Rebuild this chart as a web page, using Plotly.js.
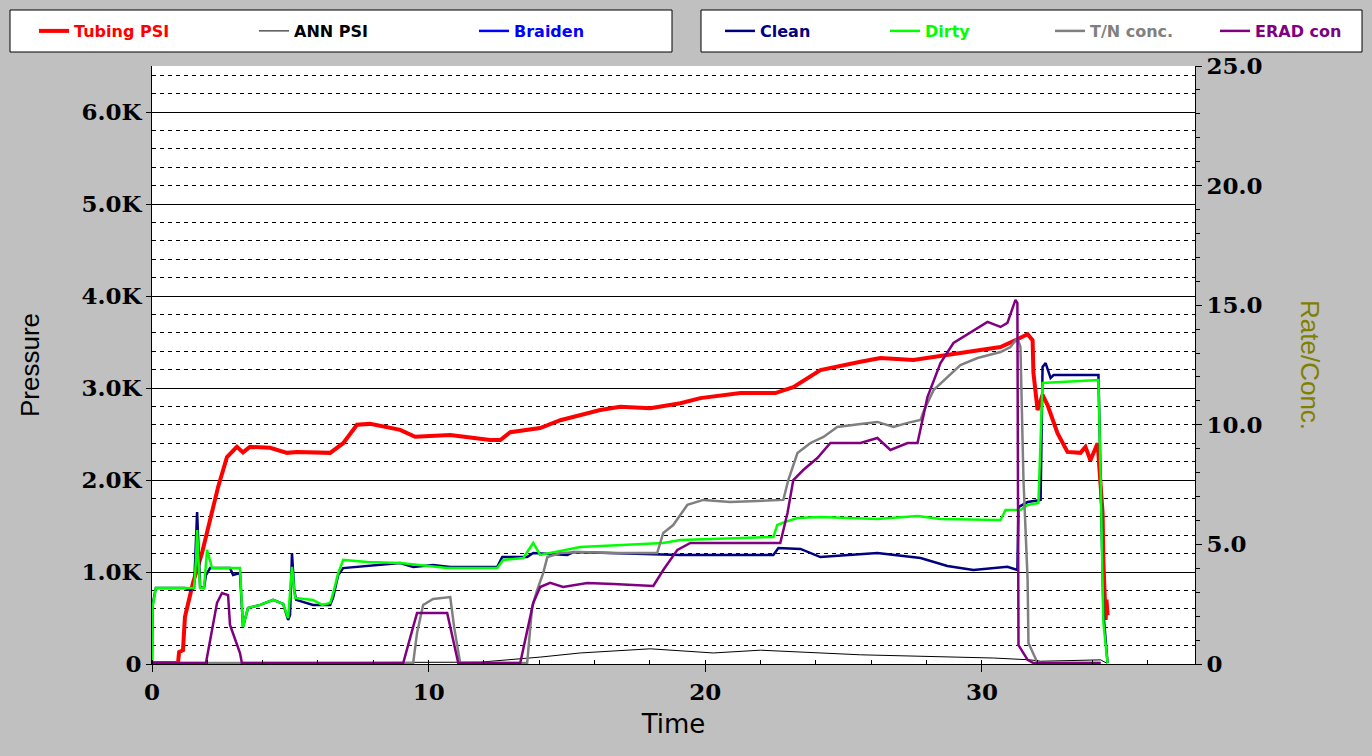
<!DOCTYPE html>
<html>
<head>
<meta charset="utf-8">
<script src="https://cdn.plot.ly/plotly-3.0.1.min.js"></script>
<style>
  html, body { margin: 0; padding: 0; background: #c0c0c0; }
  #chart { width: 1372px; height: 756px; }
</style>
</head>
<body>
<div id="chart"></div>
<script>
// ---- Data (time in minutes, pressure in psi, rate/conc in chart units) ----
const tubingT = [0,0.65,0.94,0.98,1.12,1.19,1.48,1.81,2.10,2.39,2.71,3.07,3.29,3.54,4.27,4.88,5.24,5.97,6.44,6.91,7.41,7.88,8.97,9.51,10.78,12.22,12.59,12.95,14.03,14.76,15.48,16.20,16.93,18.01,19.10,19.82,21.27,22.53,23.18,24.16,25.61,26.33,27.52,28.75,30.67,31.28,31.65,31.83,31.86,32.01,32.19,32.37,32.73,33.09,33.56,33.74,33.92,34.18,34.29,34.36,34.39,34.47,34.50,34.54];
const tubingP = [10,10,10,130,150,510,880,1210,1565,1925,2250,2360,2300,2360,2350,2295,2305,2305,2295,2400,2600,2610,2545,2470,2490,2435,2435,2520,2565,2650,2705,2760,2795,2780,2835,2890,2945,2945,3010,3195,3285,3325,3305,3360,3445,3530,3585,3520,3165,2760,2925,2815,2510,2305,2295,2360,2215,2400,2000,1640,1100,480,700,530];

const annT = [0,11.86,12.84,14.03,15.48,18.01,20.29,21.99,25.61,30.42,31.75,32.12,34.29,34.5];
const annP = [10,20,45,75,120,165,120,150,100,65,45,30,45,10];

const braidenT = [0];
const braidenV = [null];

const cleanT = [0,0.02,0.14,1.19,1.37,1.52,1.59,1.63,1.70,1.74,1.88,1.95,2.10,2.82,2.93,3.18,3.29,3.47,3.91,4.38,4.74,4.92,4.99,5.06,5.14,5.21,5.82,6.15,6.44,6.55,6.73,6.91,7.78,8.97,9.44,10.16,10.78,12.48,12.66,13.56,13.78,15.01,15.23,19.10,22.46,22.64,23.44,24.16,26.22,27.78,28.75,29.69,30.92,31.28,31.32,31.65,32.12,32.19,32.30,32.48,32.59,34.21,34.29,34.39,34.54];
const cleanV = [0.04,2.47,3.18,3.18,3.09,3.18,5.18,6.35,4.35,3.22,3.18,3.72,4.01,4.01,3.72,3.80,1.55,2.34,2.47,2.68,2.51,1.84,2.05,4.64,3.09,2.68,2.47,2.47,2.47,2.80,3.72,4.01,4.10,4.22,4.06,4.14,4.06,4.06,4.47,4.47,4.64,4.56,4.68,4.56,4.56,4.85,4.81,4.47,4.64,4.43,4.10,3.93,4.06,3.93,6.56,6.77,6.86,12.42,12.58,11.96,12.08,12.08,7.69,2.13,0.04];

const dirtyT = [0,0.02,0.14,1.37,1.52,1.59,1.63,1.70,1.74,1.88,1.99,2.17,3.18,3.29,3.47,3.91,4.38,4.74,4.92,5.06,5.17,5.82,6.15,6.44,6.55,6.73,6.91,7.78,8.97,10.67,12.48,12.69,13.42,13.78,14.03,15.48,17.90,18.48,19.10,22.46,22.60,22.89,23.33,24.16,26.22,27.67,28.50,30.67,30.85,31.39,31.65,32.04,32.19,34.21,34.29,34.39,34.54];
const dirtyV = [0.04,2.38,3.18,3.18,3.18,4.35,5.60,3.93,3.18,3.18,4.77,4.01,4.01,1.55,2.34,2.47,2.68,2.51,1.92,4.06,2.76,2.68,2.47,2.55,2.97,3.80,4.35,4.26,4.22,4.01,4.01,4.35,4.43,5.06,4.56,4.89,5.02,5.06,5.18,5.31,5.81,5.94,6.10,6.15,6.06,6.19,6.06,6.02,6.44,6.44,6.65,6.73,11.75,11.87,7.69,1.71,0.04];

const tnT = [0,9.44,9.58,9.80,10.16,10.78,10.92,11.14,13.56,13.74,13.92,14.14,14.29,14.76,15.48,16.67,18.26,18.48,18.84,19.35,19.93,20.90,22.82,23.00,23.33,23.80,24.27,24.77,25.61,26.22,26.80,27.31,27.78,27.88,28.25,28.75,29.22,29.84,30.67,31.03,31.28,31.39,31.50,31.65,31.68,32.01,34.29];
const tnV = [0.04,0.04,1.30,2.47,2.72,2.80,1.55,0.04,0.04,2.38,3.09,3.80,4.47,4.64,4.68,4.64,4.64,5.48,5.81,6.65,6.86,6.77,6.86,7.69,8.82,9.24,9.49,9.91,10.03,10.12,9.91,10.08,10.20,10.54,11.45,12.00,12.50,12.79,13.04,13.25,13.63,13.25,7.69,3.51,0.88,0.04,0.04];

const eradT = [0,1.95,2.17,2.35,2.53,2.75,2.82,3.18,3.25,9.08,9.44,9.58,10.67,10.89,11.07,13.31,13.56,13.78,14.03,14.39,14.86,15.73,16.67,18.12,18.48,18.99,19.46,21.52,22.71,22.97,23.18,23.54,24.05,24.52,25.61,26.22,26.69,27.31,27.67,28.03,28.50,28.97,29.58,30.20,30.67,30.92,31.21,31.28,31.32,31.65,31.86,34.29];
const eradV = [0.04,0.04,1.42,2.55,2.97,2.88,1.63,0.46,0.04,0.04,1.55,2.13,2.13,1.00,0.04,0.04,1.42,2.55,3.22,3.39,3.22,3.39,3.34,3.26,3.93,4.77,5.06,5.06,5.06,6.31,7.69,8.11,8.61,9.24,9.24,9.45,8.95,9.24,9.24,11.16,12.58,13.42,13.84,14.30,14.09,14.26,15.22,15.09,0.79,0.17,0.04,0.04];

const pressTicks = [0,1000,2000,3000,4000,5000,6000];
const pressLabels = ['0','1.0K','2.0K','3.0K','4.0K','5.0K','6.0K'];
const rateTicks = [0,5,10,15,20,25];
const rateLabels = ['0','5.0','10.0','15.0','20.0','25.0'];
const timeTicks = [0,10,20,30];

// ---- Traces ----
function lbl(txt, col) { return '<span style="color:' + col + '">' + txt + '</span>'; }

const traces = [
  {x: annT, y: annP, name: lbl('ANN PSI', '#000000'), mode: 'lines', line: {color: '#000000', width: 1}, yaxis: 'y', legend: 'legend', legendrank: 2},
  {x: braidenT, y: braidenV, name: lbl('Braiden', '#0000ff'), mode: 'lines', line: {color: '#0000ff', width: 2.5}, yaxis: 'y', legend: 'legend', legendrank: 3, showlegend: true},
  {x: cleanT, y: cleanV, name: lbl('Clean', '#000080'), mode: 'lines', line: {color: '#000080', width: 2.5}, yaxis: 'y2', legend: 'legend2', legendrank: 1},
  {x: dirtyT, y: dirtyV, name: lbl('Dirty', '#00ff00'), mode: 'lines', line: {color: '#00ff00', width: 2.5}, yaxis: 'y2', legend: 'legend2', legendrank: 2},
  {x: tnT, y: tnV, name: lbl('T/N conc.', '#808080'), mode: 'lines', line: {color: '#808080', width: 2.5}, yaxis: 'y2', legend: 'legend2', legendrank: 3},
  {x: eradT, y: eradV, name: lbl('ERAD con', '#800080'), mode: 'lines', line: {color: '#800080', width: 2.5}, yaxis: 'y2', legend: 'legend2', legendrank: 4},
  {x: tubingT, y: tubingP, name: lbl('Tubing PSI', '#ff0000'), mode: 'lines', line: {color: '#ff0000', width: 4}, yaxis: 'y', legend: 'legend', legendrank: 1}
];

const tickFont = {family: 'DejaVu Serif', size: 23, color: '#000000', weight: 'bold'};
const legFont = {family: 'DejaVu Sans', size: 16, color: '#000000', weight: 'bold'};

// plot area in page pixels: x 152..1195, y 66..664
const PL = 152, PW = 1043, PB = 664, PH = 598;
function px(x) { return (x - PL) / PW; }
function py(y) { return (PB - y) / PH; }

const layout = {
  width: 1372, height: 756,
  paper_bgcolor: '#c0c0c0',
  plot_bgcolor: '#ffffff',
  margin: {l: 152, r: 177, t: 66, b: 92, pad: 0},
  showlegend: true,
  legend: {
    xref: 'container', yref: 'container', x: 34/1372, y: 1 - 14/756,
    xanchor: 'left', yanchor: 'top', orientation: 'h',
    bgcolor: 'rgba(0,0,0,0)', borderwidth: 0,
    entrywidth: 175, entrywidthmode: 'pixels', itemwidth: 30,
    font: legFont, traceorder: 'normal'
  },
  legend2: {
    xref: 'container', yref: 'container', x: 720/1372, y: 1 - 14/756,
    xanchor: 'left', yanchor: 'top', orientation: 'h',
    bgcolor: 'rgba(0,0,0,0)', borderwidth: 0,
    entrywidth: 120, entrywidthmode: 'pixels', itemwidth: 30,
    font: legFont, traceorder: 'normal'
  },
  shapes: [
    {type: 'rect', xref: 'paper', yref: 'paper', x0: px(10), x1: px(672), y0: py(52), y1: py(10),
     fillcolor: '#ffffff', line: {color: '#000000', width: 1}, layer: 'above'},
    {type: 'rect', xref: 'paper', yref: 'paper', x0: px(701), x1: px(1362), y0: py(52), y1: py(10),
     fillcolor: '#ffffff', line: {color: '#000000', width: 1}, layer: 'above'}
  ],
  xaxis: {
    range: [0, 37.7], tickmode: 'array', tickvals: timeTicks, ticktext: timeTicks.map(String),
    ticks: 'outside', ticklen: 7, tickcolor: '#000000', tickwidth: 1,
    minor: {tick0: 0, dtick: 2, ticks: 'inside', ticklen: 4, tickcolor: '#000000', showgrid: false},
    showline: true, linecolor: '#000000', linewidth: 1, mirror: false,
    showgrid: false, zeroline: false, tickfont: tickFont,
    title: {text: 'Time', font: {family: 'DejaVu Sans', size: 26, color: '#000000'}, standoff: 11}
  },
  yaxis: {
    range: [0, 6500], tickmode: 'array', tickvals: pressTicks, ticktext: pressLabels,
    ticks: 'outside', ticklen: 5, tickcolor: '#000000',
    showline: true, linecolor: '#000000', linewidth: 1,
    showgrid: true, gridcolor: '#000000', gridwidth: 1, zeroline: false,
    minor: {tick0: 0, dtick: 200, showgrid: true, gridcolor: '#000000', gridwidth: 1, griddash: '4px,4px', ticks: ''},
    tickfont: tickFont,
    title: {text: 'Pressure', font: {family: 'Liberation Sans', size: 26, color: '#000000'}, standoff: 34}
  },
  yaxis2: {
    overlaying: 'y', side: 'right', range: [0, 25],
    tickmode: 'array', tickvals: rateTicks, ticktext: rateLabels,
    ticks: 'outside', ticklen: 6, tickcolor: '#000000',
    minor: {tick0: 0, dtick: 1, ticks: 'outside', ticklen: 4, tickcolor: '#000000', showgrid: false},
    showline: true, linecolor: '#000000', linewidth: 1,
    showgrid: false, zeroline: false, tickfont: tickFont
  },
  annotations: [
    {text: 'Rate/Conc.', xref: 'paper', yref: 'paper', x: px(1310), y: py(365), textangle: 90,
     showarrow: false, xanchor: 'center', yanchor: 'middle',
     font: {family: 'Liberation Sans', size: 26, color: '#808000'}}
  ]
};

Plotly.newPlot('chart', traces, layout, {displayModeBar: false, staticPlot: true});
</script>
</body>
</html>
